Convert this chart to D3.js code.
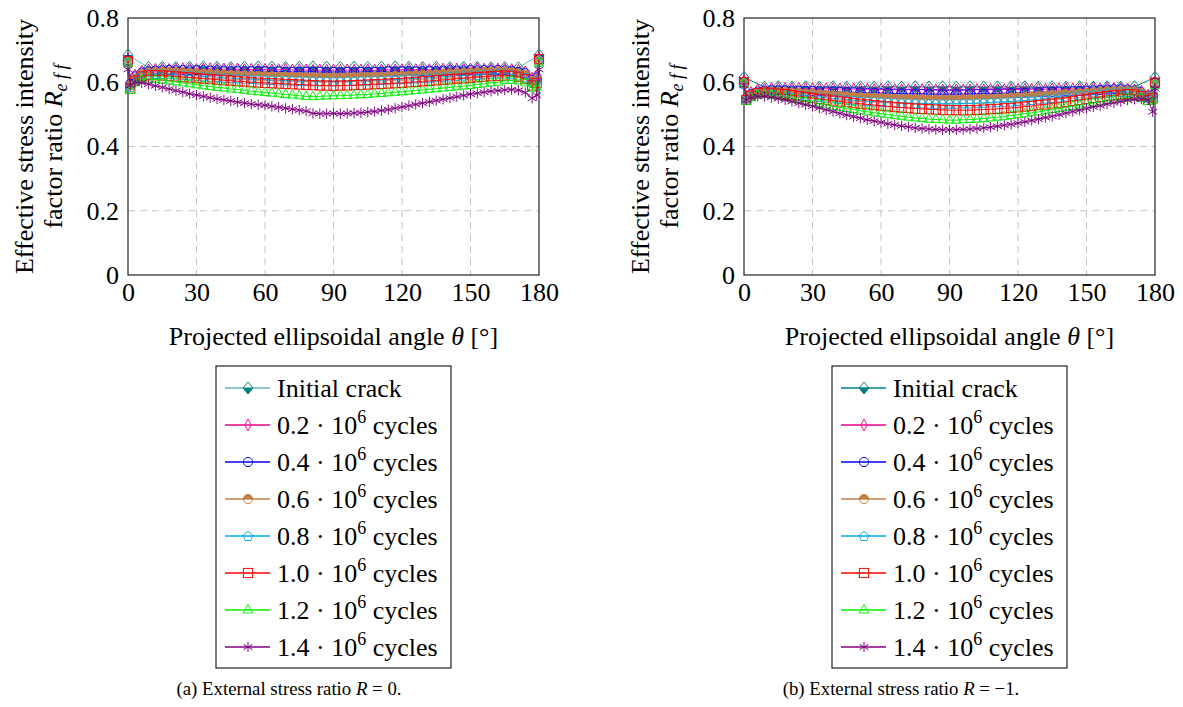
<!DOCTYPE html>
<html><head><meta charset="utf-8">
<script src="https://cdn.jsdelivr.net/npm/d3@7"></script>
<style>
body{margin:0;background:#fff}
svg{display:block;font-family:"Liberation Serif",Tinos,"Times New Roman","DejaVu Serif",serif}
svg text{font-family:"Liberation Serif",Tinos,"Times New Roman","DejaVu Serif",serif;fill:#000}
</style>
</head><body>
<svg id="c" width="1183" height="707" font-family="Liberation Serif"></svg>
<script>
// ---------------- DATA ----------------
const xTicks = [0, 30, 60, 90, 120, 150, 180];
const yTicks = [0, 0.2, 0.4, 0.6, 0.8];
const yTickLabels = ["0", "0.2", "0.4", "0.6", "0.8"];
const legendLabels = ["Initial crack", "0.2", "0.4", "0.6", "0.8", "1.0", "1.2", "1.4"];
const captionA = ["(a) External stress ratio ", "R", " = 0."];
const captionB = ["(b) External stress ratio ", "R", " = \u22121."];

// angles of the initial crack front nodes
const thetaInitial = [
  0, 9, 15, 21, 27, 33, 39, 45, 51, 57,
  63, 69, 75, 81, 87, 93, 99, 105, 111, 117,
  123, 129, 135, 141, 147, 153, 159, 165, 171, 180];
// angles of the grown crack front nodes
const theta = [
  0, 1, 3, 6, 9, 12, 15, 18, 21, 24,
  27, 30, 33, 36, 39, 42, 45, 48, 51, 54,
  57, 60, 63, 66, 69, 72, 75, 78, 81, 84,
  87, 90, 93, 96, 99, 102, 105, 108, 111, 114,
  117, 120, 123, 126, 129, 132, 135, 138, 141, 144,
  147, 150, 153, 156, 159, 162, 165, 168, 171, 174,
  177, 179, 180];

// ---- (a) R = 0 ----
const a_initial = [
  0.685, 0.646, 0.647, 0.646, 0.647, 0.648, 0.647, 0.646, 0.647, 0.648,
  0.647, 0.646, 0.647, 0.648, 0.647, 0.646, 0.647, 0.646, 0.647, 0.648,
  0.647, 0.646, 0.647, 0.646, 0.647, 0.646, 0.645, 0.646, 0.645, 0.685];
const a_02 = [
  0.672, 0.600, 0.622, 0.634, 0.638, 0.640, 0.641, 0.640, 0.641, 0.642,
  0.641, 0.640, 0.641, 0.642, 0.640, 0.641, 0.640, 0.641, 0.639, 0.640,
  0.639, 0.640, 0.638, 0.639, 0.640, 0.638, 0.639, 0.638, 0.637, 0.638,
  0.637, 0.638, 0.637, 0.638, 0.637, 0.638, 0.638, 0.637, 0.638, 0.639,
  0.638, 0.639, 0.640, 0.639, 0.640, 0.639, 0.640, 0.641, 0.640, 0.641,
  0.640, 0.641, 0.642, 0.641, 0.640, 0.641, 0.640, 0.639, 0.637, 0.632,
  0.612, 0.620, 0.676];
const a_04 = [
  0.668, 0.595, 0.618, 0.630, 0.634, 0.636, 0.637, 0.638, 0.637, 0.638,
  0.637, 0.638, 0.637, 0.636, 0.637, 0.636, 0.635, 0.636, 0.635, 0.634,
  0.635, 0.634, 0.633, 0.634, 0.633, 0.632, 0.633, 0.632, 0.633, 0.632,
  0.631, 0.632, 0.631, 0.632, 0.631, 0.632, 0.633, 0.632, 0.633, 0.634,
  0.633, 0.634, 0.635, 0.634, 0.635, 0.636, 0.635, 0.636, 0.637, 0.636,
  0.637, 0.638, 0.637, 0.638, 0.637, 0.638, 0.637, 0.635, 0.632, 0.628,
  0.608, 0.615, 0.672];
const a_06 = [
  0.665, 0.590, 0.612, 0.625, 0.630, 0.632, 0.633, 0.632, 0.631, 0.630,
  0.629, 0.628, 0.627, 0.626, 0.625, 0.624, 0.623, 0.622, 0.622, 0.621,
  0.620, 0.620, 0.619, 0.618, 0.618, 0.617, 0.617, 0.616, 0.616, 0.615,
  0.615, 0.615, 0.615, 0.616, 0.616, 0.617, 0.617, 0.618, 0.618, 0.619,
  0.620, 0.620, 0.621, 0.622, 0.623, 0.624, 0.625, 0.626, 0.627, 0.628,
  0.629, 0.630, 0.631, 0.632, 0.633, 0.634, 0.634, 0.632, 0.628, 0.622,
  0.602, 0.610, 0.668];
const a_08 = [
  0.662, 0.585, 0.608, 0.620, 0.624, 0.626, 0.626, 0.625, 0.624, 0.622,
  0.621, 0.620, 0.618, 0.617, 0.616, 0.614, 0.613, 0.612, 0.611, 0.610,
  0.609, 0.608, 0.607, 0.606, 0.606, 0.605, 0.604, 0.604, 0.603, 0.603,
  0.603, 0.603, 0.603, 0.604, 0.604, 0.605, 0.605, 0.606, 0.607, 0.608,
  0.609, 0.610, 0.611, 0.612, 0.613, 0.614, 0.616, 0.617, 0.618, 0.620,
  0.621, 0.622, 0.623, 0.625, 0.626, 0.627, 0.627, 0.625, 0.621, 0.615,
  0.598, 0.605, 0.665];
const a_10 = [
  0.665, 0.580, 0.605, 0.618, 0.622, 0.622, 0.621, 0.620, 0.618, 0.616,
  0.615, 0.613, 0.611, 0.610, 0.608, 0.606, 0.605, 0.603, 0.602, 0.600,
  0.599, 0.598, 0.597, 0.596, 0.595, 0.594, 0.593, 0.592, 0.591, 0.590,
  0.590, 0.589, 0.590, 0.590, 0.591, 0.592, 0.593, 0.594, 0.595, 0.596,
  0.597, 0.598, 0.600, 0.601, 0.603, 0.604, 0.606, 0.607, 0.609, 0.611,
  0.612, 0.614, 0.616, 0.617, 0.619, 0.620, 0.621, 0.620, 0.617, 0.610,
  0.590, 0.598, 0.672];
const a_12 = [
  0.660, 0.575, 0.598, 0.608, 0.610, 0.609, 0.607, 0.604, 0.601, 0.598,
  0.595, 0.592, 0.589, 0.587, 0.584, 0.582, 0.579, 0.577, 0.575, 0.572,
  0.570, 0.568, 0.566, 0.564, 0.562, 0.560, 0.558, 0.556, 0.555, 0.556,
  0.557, 0.558, 0.558, 0.559, 0.560, 0.561, 0.562, 0.564, 0.565, 0.567,
  0.569, 0.570, 0.572, 0.574, 0.576, 0.578, 0.580, 0.582, 0.584, 0.586,
  0.588, 0.590, 0.593, 0.595, 0.598, 0.600, 0.605, 0.606, 0.604, 0.598,
  0.580, 0.585, 0.660];
const a_14 = [
  0.640, 0.590, 0.600, 0.598, 0.594, 0.589, 0.584, 0.579, 0.574, 0.569,
  0.564, 0.560, 0.556, 0.552, 0.548, 0.545, 0.542, 0.538, 0.535, 0.532,
  0.530, 0.528, 0.525, 0.522, 0.519, 0.516, 0.513, 0.510, 0.503, 0.502,
  0.502, 0.503, 0.502, 0.503, 0.504, 0.505, 0.507, 0.509, 0.512, 0.515,
  0.519, 0.523, 0.527, 0.531, 0.535, 0.539, 0.543, 0.547, 0.551, 0.555,
  0.559, 0.563, 0.566, 0.569, 0.572, 0.574, 0.576, 0.577, 0.575, 0.568,
  0.550, 0.560, 0.640];

// ---- (b) R = -1 ----
const b_initial = [
  0.615, 0.585, 0.586, 0.585, 0.586, 0.585, 0.586, 0.585, 0.586, 0.585,
  0.586, 0.585, 0.586, 0.585, 0.586, 0.585, 0.586, 0.585, 0.586, 0.585,
  0.586, 0.585, 0.586, 0.585, 0.586, 0.585, 0.586, 0.585, 0.586, 0.615];
const b_02 = [
  0.605, 0.555, 0.568, 0.576, 0.579, 0.580, 0.581, 0.580, 0.580, 0.581,
  0.580, 0.580, 0.579, 0.580, 0.579, 0.579, 0.578, 0.579, 0.578, 0.578,
  0.577, 0.578, 0.577, 0.577, 0.576, 0.577, 0.576, 0.577, 0.576, 0.576,
  0.576, 0.575, 0.576, 0.576, 0.576, 0.577, 0.576, 0.577, 0.577, 0.577,
  0.578, 0.577, 0.578, 0.578, 0.579, 0.578, 0.579, 0.579, 0.580, 0.579,
  0.580, 0.580, 0.581, 0.580, 0.581, 0.581, 0.580, 0.579, 0.576, 0.572,
  0.560, 0.565, 0.600];
const b_04 = [
  0.600, 0.550, 0.563, 0.571, 0.574, 0.575, 0.575, 0.575, 0.574, 0.574,
  0.573, 0.573, 0.572, 0.571, 0.571, 0.570, 0.569, 0.569, 0.568, 0.567,
  0.567, 0.566, 0.566, 0.565, 0.565, 0.564, 0.564, 0.564, 0.563, 0.563,
  0.563, 0.563, 0.563, 0.563, 0.564, 0.564, 0.564, 0.565, 0.565, 0.566,
  0.566, 0.567, 0.567, 0.568, 0.569, 0.569, 0.570, 0.571, 0.572, 0.572,
  0.573, 0.574, 0.575, 0.576, 0.577, 0.578, 0.578, 0.577, 0.574, 0.569,
  0.557, 0.562, 0.598];
const b_06 = [
  0.598, 0.548, 0.560, 0.568, 0.571, 0.571, 0.570, 0.569, 0.568, 0.567,
  0.565, 0.564, 0.562, 0.561, 0.559, 0.558, 0.557, 0.555, 0.554, 0.553,
  0.552, 0.551, 0.550, 0.549, 0.548, 0.548, 0.547, 0.547, 0.546, 0.546,
  0.546, 0.546, 0.546, 0.547, 0.547, 0.548, 0.548, 0.549, 0.550, 0.551,
  0.552, 0.553, 0.554, 0.556, 0.557, 0.558, 0.560, 0.561, 0.563, 0.564,
  0.566, 0.567, 0.569, 0.570, 0.572, 0.573, 0.574, 0.574, 0.572, 0.567,
  0.555, 0.560, 0.595];
const b_08 = [
  0.595, 0.545, 0.557, 0.565, 0.567, 0.567, 0.566, 0.564, 0.562, 0.560,
  0.558, 0.556, 0.554, 0.552, 0.550, 0.548, 0.546, 0.544, 0.543, 0.541,
  0.540, 0.539, 0.538, 0.537, 0.536, 0.535, 0.534, 0.534, 0.533, 0.533,
  0.533, 0.533, 0.533, 0.534, 0.534, 0.535, 0.536, 0.537, 0.538, 0.539,
  0.540, 0.542, 0.543, 0.545, 0.547, 0.549, 0.551, 0.553, 0.555, 0.557,
  0.559, 0.561, 0.563, 0.565, 0.567, 0.569, 0.570, 0.570, 0.568, 0.563,
  0.552, 0.557, 0.592];
const b_10 = [
  0.600, 0.545, 0.558, 0.566, 0.568, 0.567, 0.565, 0.563, 0.560, 0.557,
  0.554, 0.551, 0.548, 0.546, 0.543, 0.540, 0.538, 0.535, 0.533, 0.531,
  0.529, 0.527, 0.525, 0.523, 0.521, 0.520, 0.518, 0.517, 0.516, 0.515,
  0.514, 0.513, 0.513, 0.513, 0.513, 0.514, 0.515, 0.516, 0.517, 0.519,
  0.520, 0.522, 0.524, 0.526, 0.529, 0.531, 0.534, 0.536, 0.539, 0.542,
  0.545, 0.548, 0.551, 0.554, 0.557, 0.559, 0.561, 0.563, 0.562, 0.557,
  0.545, 0.550, 0.598];
const b_12 = [
  0.595, 0.540, 0.552, 0.560, 0.562, 0.560, 0.557, 0.553, 0.549, 0.545,
  0.541, 0.537, 0.533, 0.529, 0.525, 0.522, 0.518, 0.515, 0.511, 0.508,
  0.505, 0.502, 0.499, 0.496, 0.494, 0.491, 0.489, 0.487, 0.485, 0.484,
  0.483, 0.482, 0.482, 0.483, 0.484, 0.485, 0.487, 0.489, 0.491, 0.493,
  0.496, 0.499, 0.502, 0.505, 0.508, 0.511, 0.515, 0.518, 0.522, 0.525,
  0.529, 0.532, 0.536, 0.539, 0.543, 0.546, 0.549, 0.552, 0.553, 0.550,
  0.540, 0.545, 0.590];
const b_14 = [
  0.590, 0.545, 0.552, 0.556, 0.556, 0.553, 0.549, 0.545, 0.540, 0.535,
  0.530, 0.525, 0.520, 0.514, 0.509, 0.503, 0.498, 0.493, 0.488, 0.483,
  0.479, 0.475, 0.471, 0.467, 0.464, 0.461, 0.458, 0.456, 0.454, 0.453,
  0.452, 0.452, 0.452, 0.453, 0.454, 0.456, 0.458, 0.460, 0.463, 0.466,
  0.469, 0.473, 0.477, 0.481, 0.485, 0.490, 0.494, 0.499, 0.504, 0.509,
  0.513, 0.518, 0.523, 0.527, 0.532, 0.536, 0.540, 0.544, 0.547, 0.548,
  0.545, 0.508, 0.580];

// ---------------- STYLES ----------------
const seriesStyle = [
  {color: "#008080", marker: "diamondHalf"},
  {color: "#ee0088", marker: "diamondThin"},
  {color: "#0000ff", marker: "circle"},
  {color: "#c27f45", marker: "circleHalf"},
  {color: "#00a8e8", marker: "pentagon"},
  {color: "#ff0000", marker: "square"},
  {color: "#00f000", marker: "triangle"},
  {color: "#800080", marker: "asterisk"}
];

const SERIF = '"Liberation Serif", Tinos, "Times New Roman", "DejaVu Serif", serif';
const svg = d3.select("#c").attr("font-family", SERIF);
const FONT = 26;

function drawMarker(g, type, color) {
  const sw = 0.95;
  const o = {stroke: color, "stroke-width": sw, fill: "none"};
  const ap = (el, attrs) => { for (const k in attrs) el.attr(k, attrs[k]); return el; };
  if (type === "diamondHalf") {
    ap(g.append("path").attr("d", "M0,-6L5,0L0,6L-5,0Z"), o);
    g.append("path").attr("d", "M-5,0L5,0L0,6Z").attr("fill", color);
  } else if (type === "diamondThin") {
    ap(g.append("path").attr("d", "M0,-6L3.2,0L0,6L-3.2,0Z"), o);
  } else if (type === "circle") {
    ap(g.append("circle").attr("r", 4.6), o);
  } else if (type === "circleHalf") {
    ap(g.append("circle").attr("r", 4.6), o);
    g.append("path").attr("d", "M-4.6,0A4.6,4.6 0 0 1 4.6,0Z").attr("fill", color);
  } else if (type === "pentagon") {
    const pts = d3.range(5).map(k => {
      const a = -Math.PI / 2 + k * 2 * Math.PI / 5;
      return [5 * Math.cos(a), 5 * Math.sin(a) + 0.5];
    });
    ap(g.append("path").attr("d", "M" + pts.map(p => p.join(",")).join("L") + "Z"), o);
  } else if (type === "square") {
    ap(g.append("rect").attr("x", -4.6).attr("y", -4.6).attr("width", 9.2).attr("height", 9.2), o);
  } else if (type === "triangle") {
    ap(g.append("path").attr("d", "M0,-5.5L4.8,3L-4.8,3Z"), o);
  } else if (type === "asterisk") {
    [90, 30, 150].forEach(a => {
      const r = 5.2, c = Math.cos(a * Math.PI / 180) * r, s = Math.sin(a * Math.PI / 180) * r;
      ap(g.append("line").attr("x1", -c).attr("y1", -s).attr("x2", c).attr("y2", s), o);
    });
  }
}

function drawChart(cfg) {
  const x = d3.scaleLinear().domain([0, 180]).range([cfg.x0, cfg.x1]);
  const y = d3.scaleLinear().domain([0, 0.8]).range([cfg.yb, cfg.yt]);
  const g = svg.append("g").attr("font-family", SERIF);

  // grid
  g.append("g").selectAll("line").data(xTicks.filter(d => d > 0 && d < 180)).join("line")
    .attr("x1", d => x(d)).attr("x2", d => x(d)).attr("y1", cfg.yt).attr("y2", cfg.yb)
    .attr("stroke", "#c4c4c4").attr("stroke-width", 1).attr("stroke-dasharray", "7,5");
  g.append("g").selectAll("line").data(yTicks.filter(d => d > 0 && d < 0.8)).join("line")
    .attr("y1", d => y(d)).attr("y2", d => y(d)).attr("x1", cfg.x0).attr("x2", cfg.x1)
    .attr("stroke", "#c4c4c4").attr("stroke-width", 1).attr("stroke-dasharray", "7,5");

  // frame
  g.append("rect").attr("x", cfg.x0).attr("y", cfg.yt)
    .attr("width", cfg.x1 - cfg.x0).attr("height", cfg.yb - cfg.yt)
    .attr("fill", "none").attr("stroke", "#222").attr("stroke-width", 1.2);

  // axes
  const ax = g.append("g").attr("transform", `translate(0,${cfg.yb})`)
    .call(d3.axisBottom(x).tickValues(xTicks).tickSize(0).tickPadding(8).tickFormat(d3.format("d")));
  ax.select(".domain").remove();
  ax.attr("font-size", FONT).attr("font-family", SERIF);
  const ay = g.append("g").attr("transform", `translate(${cfg.x0},0)`)
    .call(d3.axisLeft(y).tickValues(yTicks).tickSize(0).tickPadding(9).tickFormat((d, i) => yTickLabels[i]));
  ay.select(".domain").remove();
  ay.attr("font-size", FONT).attr("font-family", SERIF);

  // series
  const line = d3.line().x(d => x(d[0])).y(d => y(d[1]));
  cfg.series.forEach((s, i) => {
    const st = seriesStyle[i];
    const pts = s.theta.map((t, k) => [t, s.values[k]]);
    const sg = g.append("g");
    sg.append("path").datum(pts).attr("d", line).attr("fill", "none")
      .attr("stroke", st.color).attr("stroke-width", 1)
      .attr("stroke-opacity", i === 0 ? cfg.tealOpacity : 1);
    sg.selectAll("g.m").data(pts).join("g").attr("class", "m")
      .attr("transform", d => `translate(${x(d[0])},${y(d[1])})`)
      .each(function () { drawMarker(d3.select(this), st.marker, st.color); });
  });

  // x-axis title
  const xt = g.append("text").attr("x", (cfg.x0 + cfg.x1) / 2).attr("y", cfg.yb + 70)
    .attr("text-anchor", "middle").attr("font-size", FONT);
  xt.append("tspan").text("Projected ellipsoidal angle ");
  xt.append("tspan").attr("font-style", "italic").text("\u03B8");
  xt.append("tspan").text(" [\u00B0]");

  // y-axis title (two lines)
  const cy = (cfg.yt + cfg.yb) / 2;
  g.append("text").attr("transform", `translate(${cfg.x0 - 95},${cy}) rotate(-90)`)
    .attr("text-anchor", "middle").attr("font-size", FONT).text("Effective stress intensity");
  const yl2 = g.append("text").attr("transform", `translate(${cfg.x0 - 66},${cy}) rotate(-90)`)
    .attr("text-anchor", "middle").attr("font-size", FONT);
  yl2.append("tspan").text("factor ratio ");
  yl2.append("tspan").attr("font-style", "italic").text("R");
  yl2.append("tspan").attr("font-style", "italic").attr("font-size", 18).attr("dy", 5).text("e f f");

  // legend
  const lg = g.append("g");
  lg.append("rect").attr("x", cfg.lx).attr("y", 366).attr("width", 235).attr("height", 302)
    .attr("fill", "#fff").attr("stroke", "#222").attr("stroke-width", 1.2);
  legendLabels.forEach((lab, i) => {
    const ry = 388 + i * 37;
    const st = seriesStyle[i];
    lg.append("line").attr("x1", cfg.lx + 9).attr("x2", cfg.lx + 54).attr("y1", ry).attr("y2", ry)
      .attr("stroke", st.color).attr("stroke-width", 1.5)
      .attr("stroke-opacity", i === 0 ? cfg.tealOpacity : 1);
    drawMarker(lg.append("g").attr("transform", `translate(${cfg.lx + 32},${ry})`), st.marker, st.color);
    const t = lg.append("text").attr("x", cfg.lx + 61).attr("y", ry + 9).attr("font-size", FONT);
    if (i === 0) {
      t.text(lab);
    } else {
      t.append("tspan").text(lab + " \u00B7 10");
      t.append("tspan").attr("font-size", 18).attr("dy", -11).text("6");
      t.append("tspan").attr("dy", 11).text(" cycles");
    }
  });

  // caption
  const cap = g.append("text").attr("x", cfg.capx).attr("y", 695)
    .attr("text-anchor", "middle").attr("font-size", 18.8);
  cap.append("tspan").text(cfg.caption[0]);
  cap.append("tspan").attr("font-style", "italic").text(cfg.caption[1]);
  cap.append("tspan").text(cfg.caption[2]);
}

drawChart({
  x0: 128, x1: 539, yt: 18, yb: 275, lx: 216, capx: 289, tealOpacity: 0.6, caption: captionA,
  series: [
    {theta: thetaInitial, values: a_initial},
    {theta: theta, values: a_02}, {theta: theta, values: a_04},
    {theta: theta, values: a_06}, {theta: theta, values: a_08},
    {theta: theta, values: a_10}, {theta: theta, values: a_12},
    {theta: theta, values: a_14}
  ]
});
drawChart({
  x0: 744, x1: 1155, yt: 18, yb: 275, lx: 832, capx: 901, tealOpacity: 1, caption: captionB,
  series: [
    {theta: thetaInitial, values: b_initial},
    {theta: theta, values: b_02}, {theta: theta, values: b_04},
    {theta: theta, values: b_06}, {theta: theta, values: b_08},
    {theta: theta, values: b_10}, {theta: theta, values: b_12},
    {theta: theta, values: b_14}
  ]
});
</script>
</body></html>
